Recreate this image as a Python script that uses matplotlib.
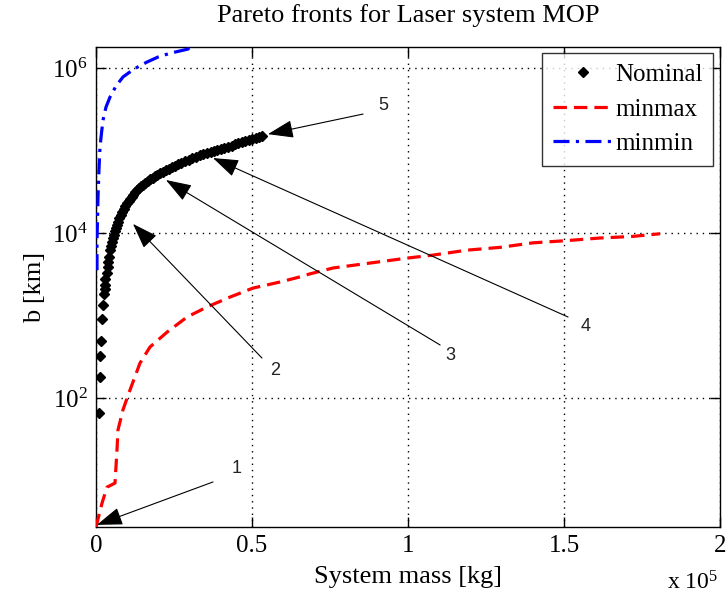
import matplotlib
matplotlib.use("Agg")
import matplotlib.pyplot as plt
from matplotlib.ticker import FixedLocator, FixedFormatter, NullLocator

plt.rcParams['font.family'] = ['Liberation Serif', 'DejaVu Serif']
plt.rcParams['mathtext.fontset'] = 'custom'
plt.rcParams['mathtext.rm'] = 'Liberation Serif'
plt.rcParams['mathtext.it'] = 'Liberation Serif:italic'

# ---------------- data ----------------
nominal_x = [960, 1280, 1280, 1600, 1920, 2240, 2560, 2880, 2880, 2880, 3530, 3850, 3850, 4170,
             4490, 4810, 5130, 5450, 5770, 6090, 6410, 6730, 7050, 7530, 8010, 8490, 8970, 9450,
             9940, 10420, 10900, 11380, 11860, 12500, 13140, 13780, 14420, 15060, 15700, 16510,
             17310, 18110, 18910, 19710, 20510, 21470, 22440, 23400, 24360, 25320, 26280, 27400,
             28520, 29650, 30770, 32050, 33330, 34450, 35580, 36700, 37820, 38940, 40060, 41180,
             42310, 43430, 44550, 45670, 46790, 47910, 49040, 50160, 51280, 52240, 53200]
nominal_y = [66, 180, 323, 490, 910, 1340, 1830, 2100, 2340, 2770, 3300, 3900, 4450, 5100,
             6220, 6950, 7780, 8690, 9460, 10570, 11500, 12500, 13600, 15200, 16500, 18000, 19500, 21240,
             23100, 24400, 25800, 27300, 28900, 31000, 33200, 35100, 37100, 38700, 40400, 42700,
             45100, 47100, 49100, 51200, 53400, 55600, 58000, 60500, 63100, 65800, 68600, 71600,
             74600, 77800, 81100, 84600, 88200, 90700, 93300, 96000, 98600, 101400, 104300, 107200,
             110300, 115000, 119900, 123300, 126800, 130300, 134000, 137800, 141800, 145800, 150000]

minmax_x = [0, 1920, 3530, 6090, 6730, 7050, 8650, 10900, 14100, 17300, 22800, 29200, 35600,
            42900, 50300, 59000, 65400, 68600, 76000, 87900, 100000, 108000, 118900, 129500, 140000,
            151000, 161500, 172000, 180800]
minmax_y = [2.73, 5.3, 8.3, 9.3, 23.5, 41, 72, 125, 265, 415, 630, 960, 1270,
            1670, 2150, 2550, 2940, 3200, 3770, 4330, 4980, 5400, 6200, 6700, 7600,
            8100, 8700, 9100, 9800]

minmin_x = [320, 320, 640, 960, 1280, 1760, 2240, 3200, 4490, 6410, 8650, 12180, 16300,
            19870, 23700, 29500, 30100]
minmin_y = [3550, 8200, 27500, 60000, 110000, 163000, 233000, 336000, 445000, 605000, 780000,
            973000, 1180000, 1360000, 1510000, 1700000, 1800000]

series_names = ['Nominal', 'minmax', 'minmin']

xtick_values = [0, 50000, 100000, 150000, 200000]
xtick_labels = ['0', '0.5', '1', '1.5', '2']
ytick_values = [1e2, 1e4, 1e6]
ytick_labels = [r'$10^{2}$', r'$10^{4}$', r'$10^{6}$']

# annotation arrows: label, tip (x, y), tail (x, y), label position (x, y)
arrow_labels = ['1', '2', '3', '4', '5']
arrow_tip = [(300, 2.9), (11860, 12900), (22430, 43900), (37500, 81100), (55100, 158000)]
arrow_tail = [(37500, 9.6), (53200, 305), (110300, 439), (151300, 959), (85600, 277000)]
label_pos = [(45200, 14.1), (57400, 218), (113500, 331), (157000, 746), (92000, 347000)]

# ---------------- figure ----------------
fig = plt.figure(figsize=(7.28, 6.0), dpi=100)
ax = fig.add_axes([96/728, 1-527/600, 624/728, 480/600])
ax.set_yscale('log')

ax.plot(nominal_x, nominal_y, linestyle='none', marker='D', markersize=4.8,
        color='black', label=series_names[0], zorder=4)
ax.plot(minmax_x, minmax_y, color='#ff0000', lw=2.3, linestyle=(0, (4.2, 2.2)),
        label=series_names[1], zorder=3)
ax.plot(minmin_x, minmin_y, color='#0000ff', lw=2.3, linestyle=(0, (5, 2, 1, 2)),
        label=series_names[2], zorder=3)

ax.set_xlim(0, 200000)
ax.set_ylim(min(minmax_y), max(minmin_y))

ax.xaxis.set_major_locator(FixedLocator(xtick_values))
ax.xaxis.set_major_formatter(FixedFormatter(xtick_labels))
ax.yaxis.set_major_locator(FixedLocator(ytick_values))
ax.yaxis.set_major_formatter(FixedFormatter(ytick_labels))
ax.yaxis.set_minor_locator(NullLocator())
ax.xaxis.set_minor_locator(NullLocator())

ax.tick_params(direction='in', length=7, width=1, top=True, right=True,
               labelsize=18, pad=6)
ax.grid(True, color='black', linestyle=(0, (1, 3.5)), lw=1.0)
for s in ax.spines.values():
    s.set_linewidth(1.0)

for lab, tip, tail, pos in zip(arrow_labels, arrow_tip, arrow_tail, label_pos):
    ax.annotate('', xy=tip, xytext=tail,
                arrowprops=dict(arrowstyle='-|>,head_length=0.8,head_width=0.28',
                                mutation_scale=20, color='black', lw=0.8,
                                shrinkA=0, shrinkB=0), zorder=5)
    ax.text(pos[0], pos[1], lab, fontsize=13, family=['Liberation Sans', 'DejaVu Sans'],
            ha='center', va='center', color='#222222', zorder=5)

ax.set_title('Pareto fronts for Laser system MOP', fontsize=19, pad=18)
ax.set_xlabel('System mass [kg]', fontsize=19, labelpad=6)
ax.set_ylabel('b [km]', fontsize=19, labelpad=4)
fig.text(693/728, 1-583/600, r'x 10$^5$', fontsize=17, ha='center', va='center')

leg = ax.legend(loc='upper right', bbox_to_anchor=(713/728, 1-53/600), bbox_transform=fig.transFigure,
                fontsize=18, frameon=True, fancybox=False, edgecolor='black',
                handlelength=2.4, handletextpad=0.1, labelspacing=0.48, borderpad=0.42,
                borderaxespad=0, markerscale=1.0)
leg.get_frame().set_linewidth(1.0)

fig.savefig('out.png', dpi=100)
